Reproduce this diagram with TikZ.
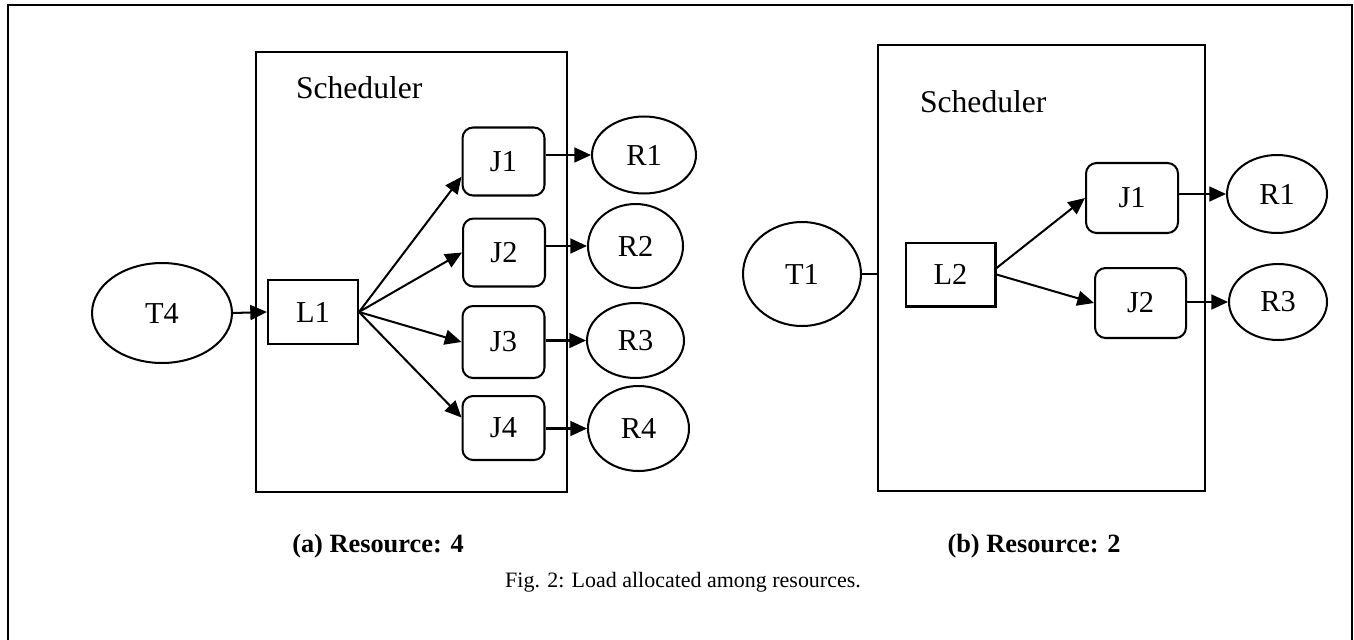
\documentclass[tikz,border=0pt]{standalone}
\usepackage{fontspec}
\setmainfont{Liberation Serif}
\usetikzlibrary{shapes.geometric,arrows.meta}

\begin{document}
\begin{tikzpicture}[x=0.02cm, y=-0.02cm, line width=1.15pt,
		lbl/.style={font=\fontsize{17.3}{20}\selectfont},
		res/.style={draw, ellipse, inner sep=0pt, lbl},
		lbox/.style={draw, rectangle, inner sep=0pt, minimum width=1.8cm, minimum height=1.28cm, lbl},
		jbox/.style={draw, rectangle, rounded corners=6pt, inner sep=0pt, minimum width=1.64cm, minimum height=1.36cm, lbl},
		sched/.style={draw, rectangle, inner sep=0pt},
		arr/.style={-{Triangle[length=9.5pt,width=8.5pt]}}]
	\useasboundingbox (0,0) rectangle (1354,639);
	\draw[line width=1.3pt] (8,650) -- (8,5) -- (1352,5) -- (1352,650);

	% (a) four resources
	\node[sched, minimum width=6.22cm, minimum height=8.8cm] (schedA) at (411.5,272) {};
	\node[anchor=base west, inner sep=0pt, font=\fontsize{18}{20}\selectfont] (schedAlbl) at (295,98) {Scheduler};
	\node[res, minimum width=2.8cm, minimum height=2cm] (T4) at (162,313) {T4};
	\node[lbox] (L1) at (313,312) {L1};
	\node[jbox] (J1a) at (503.5,161.5) {J1};
	\node[jbox] (J2a) at (504,252.5) {J2};
	\node[jbox, minimum height=1.44cm] (J3a) at (503.5,342) {J3};
	\node[jbox, minimum height=1.28cm] (J4a) at (503.5,428) {J4};
	\node[res, minimum width=2.08cm, minimum height=1.54cm] (R1a) at (644,155) {R1};
	\node[res, minimum width=1.9cm, minimum height=1.68cm] (R2a) at (635.5,246) {R2};
	\node[res, minimum width=1.94cm, minimum height=1.5cm] (R3a) at (635.5,340.5) {R3};
	\node[res, minimum width=2.02cm, minimum height=1.7cm] (R4a) at (638.5,428.5) {R4};
	\draw[arr] (T4.east) -- (L1.west);
	\draw[arr] (L1.east) -- (J1a.200);
	\draw[arr] (L1.east) -- (J2a.west);
	\draw[arr] (L1.east) -- (J3a.west);
	\draw[arr] (L1.east) -- (J4a.166);
	\draw[arr] (J1a.east |- R1a.west) -- (R1a.west);
	\draw[arr] (J2a.east |- R2a.west) -- (R2a.west);
	\draw[arr] (J3a.east |- R3a.west) -- (R3a.west);
	\draw[arr] (J4a.east |- R4a.west) -- (R4a.west);
	\node[font=\bfseries\fontsize{15}{18}\selectfont] (capA) at (378,546) {(a) Resource: 4};

	% (b) two resources
	\node[sched, minimum width=6.54cm, minimum height=8.92cm] (schedB) at (1041.5,268) {};
	\node[anchor=base west, inner sep=0pt, font=\fontsize{18}{20}\selectfont] (schedBlbl) at (919,112) {Scheduler};
	\node[res, minimum width=2.36cm, minimum height=2.08cm] (T1) at (802,274) {T1};
	\node[lbox] (L2) at (950.5,274.5) {L2};
	\node[jbox, minimum width=1.84cm, minimum height=1.4cm] (J1b) at (1132,198) {J1};
	\node[jbox, minimum width=1.82cm, minimum height=1.4cm] (J2b) at (1140.5,303) {J2};
	\node[res, minimum width=2cm, minimum height=1.56cm] (R1b) at (1277,194) {R1};
	\node[res, minimum width=1.96cm, minimum height=1.52cm] (R3b) at (1278,302) {R3};
	\draw (T1.east) -- (T1.east -| schedB.west);
	\draw[arr] (L2.8) -- (J1b.west);
	\draw[arr] (L2.east) -- (J2b.west);
	\draw[arr] (J1b.east |- R1b.west) -- (R1b.west);
	\draw[arr] (J2b.east |- R3b.west) -- (R3b.west);
	\node[font=\bfseries\fontsize{15}{18}\selectfont] (capB) at (1034,546) {(b) Resource: 2};

	\node[font=\fontsize{12.5}{15}\selectfont] (fig) at (683,582) {Fig. 2: Load allocated among resources.};
\end{tikzpicture}
\end{document}
